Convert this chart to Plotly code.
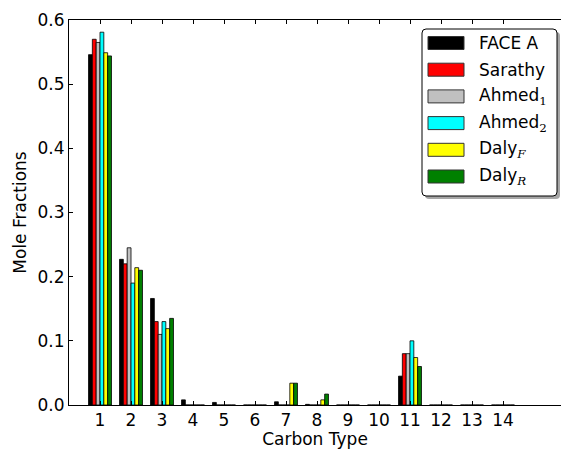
import plotly.graph_objects as go

# Mole fractions by carbon type for each surrogate / fuel description
carbon_types = list(range(1, 15))
tick_labels = [str(c) for c in carbon_types]

face_a  = [0.546, 0.227, 0.166, 0.008, 0.004, 0.0, 0.005, 0.001, 0.0, 0.0, 0.045, 0.0, 0.0, 0.0]
sarathy = [0.570, 0.220, 0.130, 0.0, 0.0, 0.0, 0.0, 0.0, 0.0, 0.0, 0.080, 0.0, 0.0, 0.0]
ahmed_1 = [0.565, 0.245, 0.110, 0.0, 0.0, 0.0, 0.0, 0.0, 0.0, 0.0, 0.080, 0.0, 0.0, 0.0]
ahmed_2 = [0.581, 0.190, 0.130, 0.0, 0.0, 0.0, 0.0, 0.0, 0.0, 0.0, 0.100, 0.0, 0.0, 0.0]
daly_f  = [0.549, 0.214, 0.119, 0.0, 0.0, 0.0, 0.034, 0.008, 0.0, 0.0, 0.074, 0.0, 0.0, 0.0]
daly_r  = [0.544, 0.210, 0.135, 0.0, 0.0, 0.0, 0.034, 0.017, 0.0, 0.0, 0.060, 0.0, 0.0, 0.0]

series_names = ["FACE A", "Sarathy", "Ahmed<sub>1</sub>", "Ahmed<sub>2</sub>",
                "Daly<sub><i>F</i></sub>", "Daly<sub><i>R</i></sub>"]
series_values = [face_a, sarathy, ahmed_1, ahmed_2, daly_f, daly_r]
series_colors = ["#000000", "#ff0000", "#c0c0c0", "#00ffff", "#ffff00", "#008000"]

W, H = 561, 449
ML, MT, MB, MR = 69, 20, 44, 0
PW, PH = W - ML - MR, H - MT - MB
FONT = "DejaVu Sans"
FS = 17

fig = go.Figure()
for name, vals, col in zip(series_names, series_values, series_colors):
    fig.add_trace(go.Bar(
        x=carbon_types, y=vals, name=name,
        marker=dict(color=col, line=dict(color="black", width=0.8)),
        showlegend=False,
    ))


def px_x(p):
    return (p - ML) / PW


def px_y(p):
    return (H - MB - p) / PH


# Framed legend drawn with shapes (rounded box, drop shadow, swatches)
shapes = []
annotations = []
bx0, bx1, by0, by1, r = 422, 557, 29, 196, 4


def rounded_path(x0, y0, x1, y1, rad):
    X0, X1 = px_x(x0), px_x(x1)
    Y0, Y1 = px_y(y0), px_y(y1)
    rx, ry = rad / PW, rad / PH
    return (f"M {X0+rx},{Y0} L {X1-rx},{Y0} Q {X1},{Y0} {X1},{Y0-ry} "
            f"L {X1},{Y1+ry} Q {X1},{Y1} {X1-rx},{Y1} L {X0+rx},{Y1} "
            f"Q {X0},{Y1} {X0},{Y1+ry} L {X0},{Y0-ry} Q {X0},{Y0} {X0+rx},{Y0} Z")


shapes.append(dict(type="path", xref="paper", yref="paper",
                   path=rounded_path(bx0 + 3, by0 + 3, bx1 + 3, by1 + 3, r),
                   fillcolor="rgba(0,0,0,0.35)", line=dict(width=0), layer="above"))
shapes.append(dict(type="path", xref="paper", yref="paper",
                   path=rounded_path(bx0, by0, bx1, by1, r),
                   fillcolor="white", line=dict(color="black", width=1), layer="above"))

row_y0, row_dy = 43, 26.7
for i, (name, col) in enumerate(zip(series_names, series_colors)):
    cy = row_y0 + i * row_dy
    shapes.append(dict(type="rect", xref="paper", yref="paper",
                       x0=px_x(428), x1=px_x(464), y0=px_y(cy + 6.5), y1=px_y(cy - 6.5),
                       fillcolor=col, line=dict(color="#333333", width=1), layer="above"))
    label = name.replace("<sub>", "<sub><span style='font-family:DejaVu Serif'>").replace(
        "</sub>", "</span></sub>")
    annotations.append(dict(xref="paper", yref="paper", x=px_x(477), y=px_y(cy),
                            xanchor="left", yanchor="middle", text=label, showarrow=False,
                            font=dict(family=FONT, size=FS, color="black")))

fig.update_layout(
    width=W, height=H,
    margin=dict(l=ML, r=MR, t=MT, b=MB, pad=0),
    paper_bgcolor="white", plot_bgcolor="white",
    barmode="group", bargap=0.26, bargroupgap=0.0,
    font=dict(family=FONT, size=FS, color="black"),
    shapes=shapes, annotations=annotations,
    xaxis=dict(
        range=[0, PW / 31.0], tickmode="array", tickvals=carbon_types, ticktext=tick_labels,
        ticks="inside", ticklen=4, tickcolor="black", tickwidth=1,
        showline=True, linecolor="black", linewidth=1, mirror="ticks",
        showgrid=False, zeroline=False,
        title=dict(text="Carbon Type", font=dict(family=FONT, size=FS), standoff=4),
        tickfont=dict(family=FONT, size=FS),
    ),
    yaxis=dict(
        range=[0, 0.6], tickmode="array", tickvals=[0, 0.1, 0.2, 0.3, 0.4, 0.5, 0.6],
        ticktext=["0.0", "0.1", "0.2", "0.3", "0.4", "0.5", "0.6"],
        ticks="inside", ticklen=4, tickcolor="black", tickwidth=1,
        showline=True, linecolor="black", linewidth=1, mirror=False,
        showgrid=False, zeroline=False,
        title=dict(text="Mole Fractions", font=dict(family=FONT, size=FS), standoff=6),
        tickfont=dict(family=FONT, size=FS),
    ),
)

fig.write_html("out.html")
